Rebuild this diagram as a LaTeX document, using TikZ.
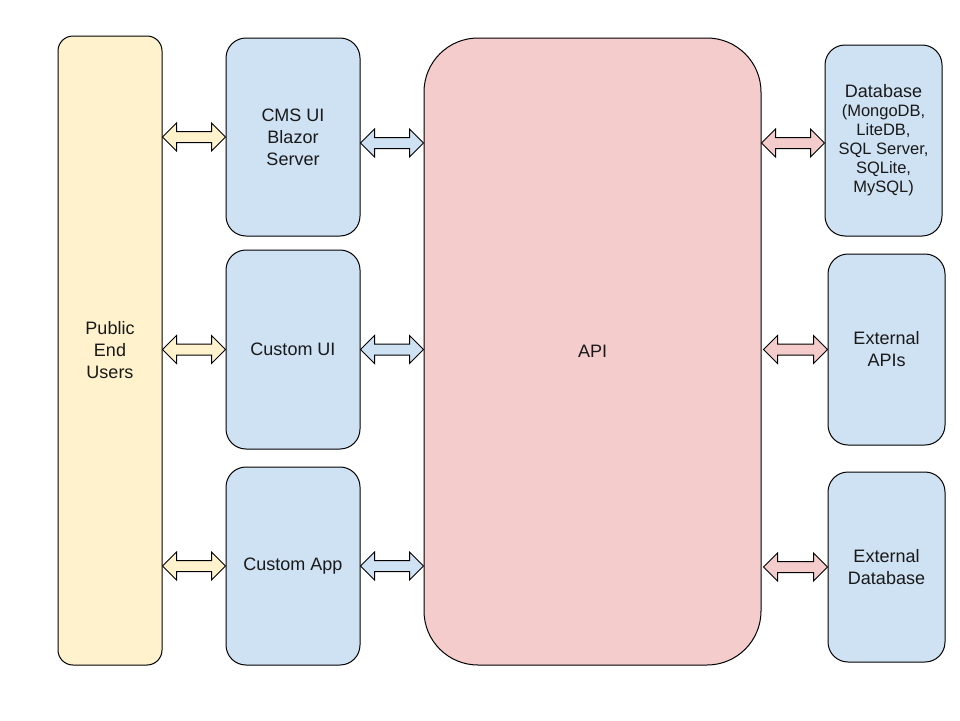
\documentclass[tikz,border=0pt]{standalone}
\usepackage{fontspec}
\setmainfont{Liberation Sans}
\usetikzlibrary{calc}
\definecolor{pubfill}{HTML}{FFF2CC}
\definecolor{bluefill}{HTML}{CFE2F3}
\definecolor{redfill}{HTML}{F4CCCC}
\tikzset{
  box/.style={draw=black, line width=1pt, rectangle, align=center, inner sep=2pt,
    font=\fontsize{18}{22}\selectfont, text=black!90},
  pubbox/.style={box, fill=pubfill, rounded corners=15pt},
  uibox/.style={box, fill=bluefill, rounded corners=20pt},
  apibox/.style={box, fill=redfill, rounded corners=54pt},
  extbox/.style={box, fill=bluefill, rounded corners=20pt},
  dblarrow/.style={draw=black, line width=1pt, line join=miter},
}
\newcommand\dblarr[3]{%
  \path[dblarrow, fill=#3] let \p1=#1, \p2=#2 in
    (\x1,\y1) -- (\x1+14pt,\y1+14pt) -- (\x1+14pt,\y1+5.5pt) -- (\x2-14pt,\y1+5.5pt)
    -- (\x2-14pt,\y1+14pt) -- (\x2,\y1) -- (\x2-14pt,\y1-14pt) -- (\x2-14pt,\y1-5.5pt)
    -- (\x1+14pt,\y1-5.5pt) -- (\x1+14pt,\y1-14pt) -- cycle;}
\begin{document}
\begin{tikzpicture}[x=1pt,y=-1pt]
\useasboundingbox (0,0) rectangle (960,720);
\fill[white] (0,0) rectangle (960,720);

\node[pubbox, minimum width=104pt, minimum height=629pt] (pub) at (110,350.5) {Public\\End\\Users};
\node[uibox, minimum width=134pt, minimum height=198pt] (cms) at (293,137) {CMS UI\\Blazor\\Server};
\node[uibox, minimum width=134pt, minimum height=199pt] (cui) at (293,349.5) {Custom UI};
\node[uibox, minimum width=134pt, minimum height=198pt] (capp) at (293,566) {Custom App};
\node[apibox, minimum width=337pt, minimum height=627pt] (api) at (592.5,351.5) {API};
\node[extbox, minimum width=117pt, minimum height=191pt, font=\fontsize{16.5}{19}\selectfont] (db) at (883.5,140.5)
  {{\fontsize{18}{20}\selectfont Database}\\(MongoDB,\\LiteDB,\\SQL Server,\\SQLite,\\MySQL)};
\node[extbox, minimum width=117pt, minimum height=191pt] (eapi) at (886.5,349.5) {External\\APIs};
\node[extbox, minimum width=117pt, minimum height=190pt] (edb) at (886.5,567) {External\\Database};

\coordinate (b1) at ([yshift=-6pt]cms.east);
\coordinate (r1) at ([yshift=-2.5pt]db.west);
\coordinate (r2) at ([xshift=2pt]api.east);

% yellow arrows
\dblarr{(pub.east |- cms.center)}{(cms.west)}{pubfill}
\dblarr{(pub.east |- cui.center)}{(cui.west)}{pubfill}
\dblarr{(pub.east |- capp.center)}{(capp.west)}{pubfill}
% blue arrows
\dblarr{(b1)}{(api.west |- b1)}{bluefill}
\dblarr{(cui.east)}{(api.west |- cui.east)}{bluefill}
\dblarr{(capp.east)}{(api.west |- capp.east)}{bluefill}
% red arrows
\dblarr{(api.east |- r1)}{(r1)}{redfill}
\dblarr{(r2 |- eapi.west)}{(eapi.west)}{redfill}
\dblarr{(r2 |- edb.west)}{(edb.west)}{redfill}
\end{tikzpicture}
\end{document}
